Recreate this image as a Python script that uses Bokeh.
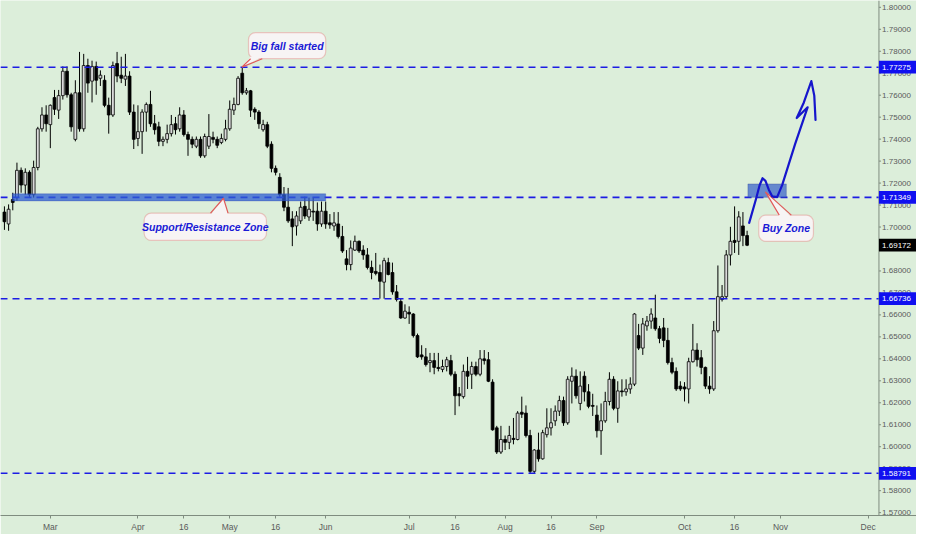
from bokeh.plotting import figure
from bokeh.models import (Range1d, FixedTicker, Span, BoxAnnotation, Label,
                          ColumnDataSource)
from bokeh.core.properties import value
from bokeh.embed import file_html
from bokeh.resources import INLINE

# daily candles (bar index = trading day)
opens = [
    1.7068, 1.7014, 1.7125, 1.7134, 1.7258, 1.7191, 1.7249, 1.7147, 1.7271, 1.7447,
    1.7510, 1.7466, 1.7589, 1.7532, 1.7598, 1.7709, 1.7602, 1.7399, 1.7611, 1.7447,
    1.7735, 1.7664, 1.7731, 1.7677, 1.7668, 1.7554, 1.7510, 1.7744, 1.7691, 1.7673,
    1.7687, 1.7523, 1.7403, 1.7434, 1.7523, 1.7558, 1.7470, 1.7456, 1.7390, 1.7399,
    1.7425, 1.7470, 1.7447, 1.7510, 1.7421, 1.7399, 1.7368, 1.7399, 1.7324, 1.7368,
    1.7408, 1.7399, 1.7385, 1.7399, 1.7447, 1.7532, 1.7558, 1.7700, 1.7611, 1.7620,
    1.7536, 1.7523, 1.7443, 1.7466, 1.7377, 1.7267, 1.7226, 1.7147, 1.7090, 1.7037,
    1.7005, 1.7028, 1.7094, 1.7046, 1.7072, 1.7072, 1.7014, 1.7072, 1.7019, 1.7005,
    1.7014, 1.6957, 1.6855, 1.6829, 1.6895, 1.6935, 1.6895, 1.6873, 1.6816, 1.6798,
    1.6793, 1.6749, 1.6838, 1.6793, 1.6705, 1.6661, 1.6586, 1.6612, 1.6604, 1.6506,
    1.6418, 1.6409, 1.6383, 1.6392, 1.6361, 1.6352, 1.6365, 1.6392, 1.6330, 1.6241,
    1.6228, 1.6343, 1.6330, 1.6365, 1.6330, 1.6400, 1.6396, 1.6294, 1.6086, 1.5976,
    1.6033, 1.6020, 1.6038, 1.6033, 1.6157, 1.6153, 1.6051, 1.5888, 1.5985, 1.5945,
    1.6055, 1.6086, 1.6118, 1.6162, 1.6210, 1.6109, 1.6298, 1.6321, 1.6197, 1.6321,
    1.6250, 1.6188, 1.6144, 1.6073, 1.6118, 1.6206, 1.6307, 1.6175, 1.6254, 1.6250,
    1.6263, 1.6285, 1.6506, 1.6449, 1.6550, 1.6572, 1.6586, 1.6537, 1.6541, 1.6484,
    1.6383, 1.6343, 1.6276, 1.6272, 1.6263, 1.6387, 1.6440, 1.6405, 1.6361, 1.6276,
    1.6263, 1.6528, 1.6670, 1.6683, 1.6873, 1.6939, 1.6935, 1.7005, 1.6961,
]
highs = [
    1.7094, 1.7103, 1.7156, 1.7293, 1.7271, 1.7267, 1.7258, 1.7302, 1.7456, 1.7545,
    1.7554, 1.7558, 1.7624, 1.7624, 1.7731, 1.7731, 1.7611, 1.7668, 1.7797, 1.7788,
    1.7766, 1.7757, 1.7753, 1.7713, 1.7691, 1.7589, 1.7753, 1.7797, 1.7775, 1.7788,
    1.7709, 1.7558, 1.7554, 1.7536, 1.7567, 1.7620, 1.7510, 1.7479, 1.7412, 1.7466,
    1.7510, 1.7501, 1.7545, 1.7532, 1.7434, 1.7412, 1.7412, 1.7412, 1.7425, 1.7514,
    1.7434, 1.7412, 1.7425, 1.7488, 1.7576, 1.7589, 1.7687, 1.7728, 1.7633, 1.7624,
    1.7545, 1.7532, 1.7488, 1.7479, 1.7390, 1.7280, 1.7245, 1.7182, 1.7178, 1.7072,
    1.7072, 1.7116, 1.7138, 1.7134, 1.7134, 1.7112, 1.7116, 1.7116, 1.7059, 1.7068,
    1.7068, 1.7005, 1.6895, 1.6939, 1.6961, 1.6939, 1.6917, 1.6904, 1.6847, 1.6882,
    1.6829, 1.6860, 1.6860, 1.6838, 1.6736, 1.6674, 1.6648, 1.6639, 1.6608, 1.6515,
    1.6462, 1.6449, 1.6427, 1.6427, 1.6427, 1.6396, 1.6409, 1.6418, 1.6343, 1.6272,
    1.6374, 1.6409, 1.6387, 1.6387, 1.6440, 1.6440, 1.6431, 1.6307, 1.6095, 1.6095,
    1.6051, 1.6095, 1.6131, 1.6162, 1.6228, 1.6188, 1.6077, 1.5989, 1.6064, 1.6077,
    1.6175, 1.6175, 1.6188, 1.6232, 1.6228, 1.6321, 1.6361, 1.6352, 1.6343, 1.6343,
    1.6285, 1.6241, 1.6188, 1.6197, 1.6250, 1.6339, 1.6321, 1.6298, 1.6307, 1.6307,
    1.6316, 1.6608, 1.6559, 1.6586, 1.6595, 1.6630, 1.6692, 1.6550, 1.6586, 1.6541,
    1.6405, 1.6361, 1.6298, 1.6294, 1.6405, 1.6559, 1.6471, 1.6440, 1.6365, 1.6321,
    1.6572, 1.6825, 1.6736, 1.6895, 1.7001, 1.7094, 1.7072, 1.7068, 1.6983,
]
lows = [
    1.6987, 1.6983, 1.7076, 1.7120, 1.7156, 1.7147, 1.7134, 1.7134, 1.7258, 1.7434,
    1.7434, 1.7359, 1.7510, 1.7492, 1.7580, 1.7589, 1.7434, 1.7390, 1.7434, 1.7434,
    1.7611, 1.7567, 1.7602, 1.7642, 1.7545, 1.7425, 1.7501, 1.7659, 1.7655, 1.7642,
    1.7510, 1.7355, 1.7368, 1.7333, 1.7434, 1.7456, 1.7421, 1.7368, 1.7368, 1.7381,
    1.7412, 1.7421, 1.7434, 1.7412, 1.7324, 1.7359, 1.7359, 1.7315, 1.7315, 1.7355,
    1.7381, 1.7359, 1.7377, 1.7390, 1.7438, 1.7510, 1.7554, 1.7602, 1.7602, 1.7501,
    1.7488, 1.7447, 1.7434, 1.7359, 1.7249, 1.7235, 1.7134, 1.7072, 1.7019, 1.6913,
    1.6961, 1.7014, 1.7037, 1.7028, 1.7028, 1.6983, 1.7001, 1.6992, 1.6992, 1.6983,
    1.6948, 1.6882, 1.6803, 1.6803, 1.6891, 1.6882, 1.6851, 1.6807, 1.6762, 1.6780,
    1.6674, 1.6674, 1.6780, 1.6692, 1.6661, 1.6582, 1.6582, 1.6559, 1.6497, 1.6404,
    1.6396, 1.6365, 1.6339, 1.6330, 1.6343, 1.6339, 1.6343, 1.6321, 1.6144, 1.6184,
    1.6219, 1.6263, 1.6263, 1.6321, 1.6321, 1.6374, 1.6294, 1.6073, 1.5967, 1.5967,
    1.5985, 1.5989, 1.6011, 1.6029, 1.6131, 1.6042, 1.5879, 1.5879, 1.5932, 1.5941,
    1.6042, 1.6051, 1.6095, 1.6140, 1.6095, 1.6100, 1.6197, 1.6219, 1.6166, 1.6206,
    1.6175, 1.6140, 1.6042, 1.5963, 1.6109, 1.6188, 1.6166, 1.6109, 1.6228, 1.6232,
    1.6241, 1.6276, 1.6440, 1.6418, 1.6528, 1.6537, 1.6528, 1.6471, 1.6453, 1.6374,
    1.6330, 1.6254, 1.6254, 1.6206, 1.6197, 1.6383, 1.6365, 1.6330, 1.6263, 1.6241,
    1.6254, 1.6519, 1.6661, 1.6674, 1.6825, 1.6882, 1.6873, 1.6913, 1.6913,
]
closes = [
    1.7024, 1.7081, 1.7112, 1.7258, 1.7191, 1.7249, 1.7147, 1.7271, 1.7447, 1.7510,
    1.7470, 1.7554, 1.7536, 1.7598, 1.7709, 1.7602, 1.7456, 1.7611, 1.7447, 1.7735,
    1.7655, 1.7731, 1.7668, 1.7691, 1.7554, 1.7510, 1.7735, 1.7687, 1.7677, 1.7687,
    1.7523, 1.7399, 1.7434, 1.7523, 1.7558, 1.7470, 1.7443, 1.7390, 1.7399, 1.7425,
    1.7466, 1.7443, 1.7510, 1.7421, 1.7399, 1.7377, 1.7399, 1.7324, 1.7412, 1.7412,
    1.7399, 1.7372, 1.7403, 1.7447, 1.7536, 1.7558, 1.7677, 1.7611, 1.7620, 1.7532,
    1.7523, 1.7470, 1.7466, 1.7368, 1.7267, 1.7249, 1.7147, 1.7090, 1.7028, 1.7001,
    1.7050, 1.7090, 1.7050, 1.7081, 1.7068, 1.7014, 1.7072, 1.7014, 1.7010, 1.7019,
    1.6957, 1.6891, 1.6829, 1.6904, 1.6935, 1.6891, 1.6873, 1.6816, 1.6793, 1.6789,
    1.6753, 1.6847, 1.6784, 1.6705, 1.6670, 1.6586, 1.6617, 1.6604, 1.6506, 1.6409,
    1.6409, 1.6374, 1.6392, 1.6361, 1.6356, 1.6365, 1.6396, 1.6330, 1.6232, 1.6232,
    1.6343, 1.6321, 1.6365, 1.6330, 1.6400, 1.6392, 1.6298, 1.6077, 1.5976, 1.6033,
    1.6020, 1.6051, 1.6033, 1.6153, 1.6148, 1.6051, 1.5888, 1.5985, 1.5945, 1.6064,
    1.6086, 1.6109, 1.6162, 1.6210, 1.6109, 1.6307, 1.6321, 1.6232, 1.6276, 1.6250,
    1.6184, 1.6184, 1.6073, 1.6118, 1.6206, 1.6307, 1.6175, 1.6254, 1.6250, 1.6263,
    1.6285, 1.6604, 1.6449, 1.6559, 1.6572, 1.6604, 1.6537, 1.6493, 1.6484, 1.6383,
    1.6339, 1.6263, 1.6263, 1.6263, 1.6387, 1.6440, 1.6396, 1.6361, 1.6276, 1.6263,
    1.6528, 1.6683, 1.6683, 1.6873, 1.6935, 1.6930, 1.7046, 1.6961, 1.69172,
]

month_ticks = [11, 32, 43, 54, 65, 77, 97, 108, 120, 131, 142, 163, 175, 186, 207]
month_labels = ["Mar", "Apr", "16", "May", "16", "Jun", "Jul", "16", "Aug", "16",
                "Sep", "Oct", "16", "Nov", "Dec"]
price_ticks = [1.57, 1.58, 1.59, 1.60, 1.61, 1.62, 1.63, 1.64, 1.65, 1.66, 1.67, 1.68,
               1.69, 1.70, 1.71, 1.72, 1.73, 1.74, 1.75, 1.76, 1.77, 1.78, 1.79, 1.80]
levels = [1.77275, 1.71349, 1.66736, 1.58791]
last_price = 1.69172

# drawn zones (bar index span, price span)
sr_zone_x = [1.9, 77.0]
sr_zone_y = [1.7119, 1.7151]
buy_zone_x = [178.2, 187.4]
buy_zone_y = [1.7135, 1.7196]

# callouts: text, box (left, right, bottom, top), pointer tip, pointer base
callout_texts = ["Big fall started", "Support/Resistance Zone", "Buy Zone"]
callout_boxes = [(58.5, 77.0, 1.7766, 1.7885),
                 (33.5, 62.8, 1.6939, 1.7063),
                 (180.8, 193.9, 1.6935, 1.7054)]
callout_tips = [(56.9, 1.7728), (52.5, 1.7131), (182.4, 1.7160)]
callout_bases = [(59.0, 61.8, 1.7766, 1.7775),
                 (49.4, 53.6, 1.7063, 1.7055),
                 (185.7, 188.6, 1.7054, 1.7046)]

# hand-drawn projection arrow
arrow_x = [178.5, 180.1, 181.0, 181.7, 182.4, 183.2, 184.0, 185.2, 186.4, 189.5,
           192.5, 189.9, 191.6, 193.4, 194.1, 194.4]
arrow_y = [1.7019, 1.7125, 1.7190, 1.7222, 1.7210, 1.7170, 1.7140, 1.7136, 1.7191, 1.7377,
           1.7545, 1.7496, 1.7567, 1.7664, 1.7598, 1.7487]

BG = "#dceeda"
BLUE = "#1c1ce4"
AXIS = "#7f8c7f"
FONT = "Liberation Sans"

# price scale sits inside the frame, right of the last chart bar
scale_x = 209.6
x_end = 218.6
p = figure(width=916, height=534, x_range=Range1d(-0.94, x_end),
           y_range=Range1d(1.5687, 1.8031), y_axis_location=None,
           output_backend="svg", toolbar_location=None, tools="",
           background_fill_color=BG, border_fill_color=BG, min_border=0)
p.outline_line_color = None
p.grid.visible = False

p.xaxis.ticker = FixedTicker(ticks=month_ticks)
p.xaxis.major_label_overrides = dict(zip(month_ticks, month_labels))
p.xaxis.axis_line_color = AXIS
p.xaxis.major_tick_line_color = AXIS
p.xaxis.major_tick_in = 0
p.xaxis.major_tick_out = 3
p.xaxis.minor_tick_line_color = None
p.xaxis.major_label_text_color = "#5a5a5a"
p.xaxis.major_label_text_font = FONT
p.xaxis.major_label_text_font_size = "8.5px"
p.xaxis.major_label_standoff = 3

n = len(opens)
src = ColumnDataSource(dict(
    x=list(range(n)), o=opens, h=highs, l=lows, c=closes,
    top=[max(o, c) for o, c in zip(opens, closes)],
    bottom=[min(o, c) for o, c in zip(opens, closes)],
    fill=["#dadada" if c >= o else "#000000" for o, c in zip(opens, closes)],
))
p.segment("x", "h", "x", "l", source=src, color="black", line_width=1)
p.vbar(x="x", width=0.68, top="top", bottom="bottom", fill_color="fill",
       line_color="black", line_width=0.8, source=src)

# price scale
p.add_layout(Span(location=scale_x, dimension="height", line_color=AXIS, line_width=1))
tick_src = ColumnDataSource(dict(y=price_ticks, label=[f"{t:.5f}" for t in price_ticks]))
p.segment(x0=scale_x, y0="y", x1=scale_x + 0.5, y1="y", source=tick_src,
          line_color=AXIS, line_width=1)
p.text(x=scale_x + 0.75, y="y", text="label", source=tick_src,
       text_font=value(FONT), text_font_size="8px", text_color="#5a5a5a",
       text_baseline="middle", text_align="left")

# horizontal levels
for lv in levels:
    p.segment(x0=-0.94, y0=lv, x1=scale_x, y1=lv, line_color=BLUE,
              line_width=1.6, line_dash="7 5")

p.add_layout(BoxAnnotation(left=sr_zone_x[0], right=sr_zone_x[1],
                           bottom=sr_zone_y[0], top=sr_zone_y[1],
                           fill_color="#2e5ed2", fill_alpha=0.75,
                           line_color="#2a40a8", line_width=1))
p.add_layout(BoxAnnotation(left=buy_zone_x[0], right=buy_zone_x[1],
                           bottom=buy_zone_y[0], top=buy_zone_y[1],
                           fill_color="#3d66c9", fill_alpha=0.75,
                           line_color="#23388f", line_width=1))

BOX_FILL = "#f7f4f4"
BOX_LINE = "#e05a5a"
for txt, box, tip, base in zip(callout_texts, callout_boxes, callout_tips, callout_bases):
    left, right, bottom, top = box
    p.add_layout(BoxAnnotation(left=left, right=right, bottom=bottom, top=top,
                               fill_color=BOX_FILL, fill_alpha=1,
                               line_color=BOX_LINE, line_width=1.2,
                               border_radius=7))
    p.add_layout(Label(x=(left + right) / 2, y=(bottom + top) / 2, text=txt,
                       text_align="center", text_baseline="middle",
                       text_font=FONT, text_font_style="bold italic",
                       text_font_size="10.5px", text_color="#1a1ad6"))
    bx0, bx1, edge, inner = base
    p.patch([bx0, tip[0], bx1], [inner, tip[1], inner], fill_color=BOX_FILL,
            line_color=None, level="overlay")
    p.line([bx0, tip[0], bx1], [edge, tip[1], edge], line_color=BOX_LINE,
           line_width=1.2, level="overlay")

p.line(arrow_x, arrow_y, line_color="#1616cc", line_width=2.2,
       line_join="round", line_cap="round", level="overlay")

# price tags on the scale
tag_h = 0.0029
tags = levels + [last_price]
tag_src = ColumnDataSource(dict(
    y=tags, top=[t + tag_h for t in tags], bottom=[t - tag_h for t in tags],
    label=[f"{t:.5f}" for t in tags],
    fill=["#1010f0"] * len(levels) + ["#000000"],
))
p.quad(left=scale_x, right=x_end, top="top", bottom="bottom", fill_color="fill",
       line_color=None, source=tag_src, level="overlay")
p.text(x=scale_x + 0.75, y="y", text="label", source=tag_src,
       text_font=value(FONT), text_font_size="8px", text_color="white",
       text_baseline="middle", text_align="left", level="overlay")

open("out.html", "w").write(file_html(p, INLINE))
